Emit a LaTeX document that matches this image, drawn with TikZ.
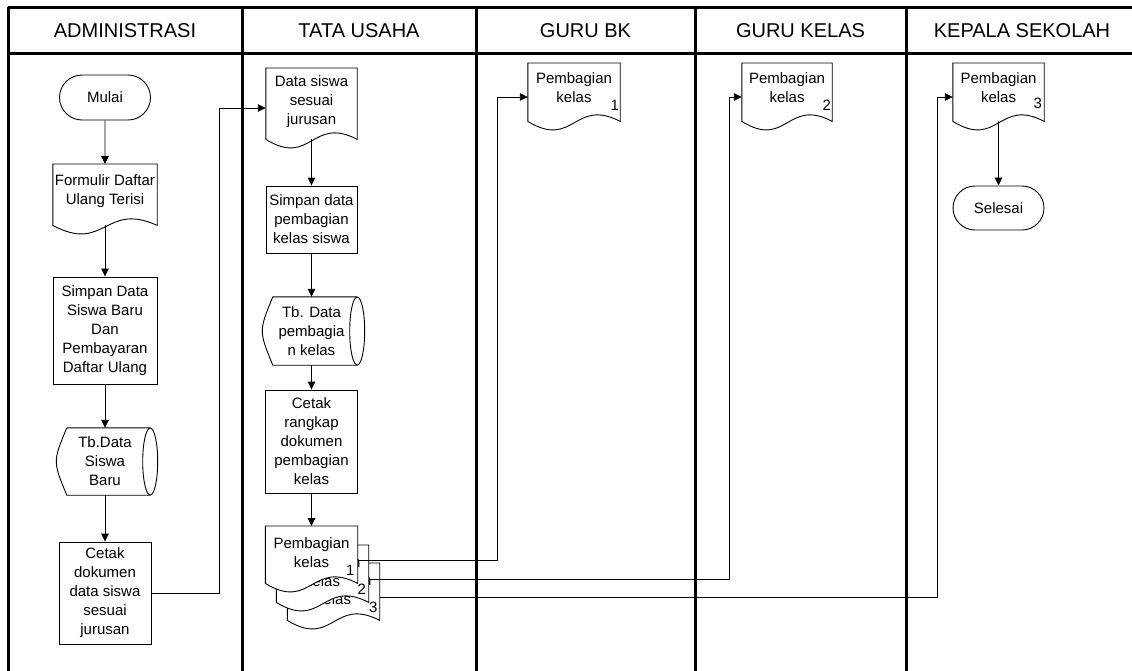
\documentclass[tikz,border=0pt]{standalone}
\usepackage{fontspec}
\setmainfont{Liberation Sans}
\usetikzlibrary{shapes.misc,arrows.meta,calc}
\newcommand\dgbody{\fontsize{15}{19}\selectfont}
\newcommand\dghead{\fontsize{20}{24}\selectfont}
\tikzset{
  lane/.style={line width=3pt},
  shp/.style={draw, line width=0.9pt},
  box/.style={shp, rectangle, align=center, font=\dgbody, inner sep=0pt},
  term/.style={shp, rounded rectangle, minimum width=91pt, minimum height=45pt, font=\dgbody, inner sep=0pt},
  holder/.style={rectangle, inner sep=0pt, draw=none},
  txt/.style={align=center, font=\dgbody, inner sep=0pt},
  num/.style={font=\dgbody, inner sep=0pt, anchor=south east},
  head/.style={font=\dghead, anchor=base, inner sep=0pt},
  flow/.style={line width=0.9pt, -{Triangle[length=8pt,width=7.5pt]}},
  link/.style={line width=0.9pt},
}
% document shape: name, cx, top, width, height, text yshift, text
\newcommand\docshape[7]{%
  \node[holder, minimum width=#4pt, minimum height=#5pt, anchor=north] (#1) at (#2,#3) {};
  \filldraw[shp, fill=white] (#1.south west) -- (#1.north west) -- (#1.north east) -- (#1.south east)
     .. controls ($(#1.south)+(0,-24)$) and ($(#1.south)+(0,28)$) .. (#1.south west) -- cycle;
  \node[txt] (#1-t) at ([yshift=#6pt]#1.center) {#7};
}
% stored data shape: name, cx, cy, width, height, text
\newcommand\storeshape[6]{%
  \node[holder, txt, minimum width=#4pt, minimum height=#5pt] (#1) at (#2,#3) {#6};
  \draw[shp] ([xshift=7pt]#1.north west) -- (#1.north east)
             (#1.south east) -- ([xshift=7pt]#1.south west)
             .. controls ([xshift=-7pt]#1.west) .. ([xshift=7pt]#1.north west);
  \draw[shp] (#1.east) ellipse [x radius=7.5pt, y radius=#5pt/2];
}
\begin{document}
\begin{tikzpicture}[x=1pt,y=-1pt]
\useasboundingbox (0,0) rectangle (1132,670);
\fill[white] (0,0) rectangle (1132,670);

% lanes
\draw[lane] (8,7) -- (1134,7);
\draw[lane] (8,53) -- (1134,53);
\foreach \x in {8,242,476,695,906} { \draw[lane] (\x,7) -- (\x,672); }
\node[head] (h1) at (125,37.2) {ADMINISTRASI};
\node[head] (h2) at (359,37.2) {TATA USAHA};
\node[head] (h3) at (585.5,37.2) {GURU BK};
\node[head] (h4) at (800.5,37.2) {GURU KELAS};
\node[head] (h5) at (1022,37.2) {KEPALA SEKOLAH};

% ADMINISTRASI
\node[term] (mulai) at (105,97.5) {Mulai};
\docshape{form}{105}{164}{104}{61}{3.5}{Formulir Daftar\\Ulang Terisi}
\node[box, minimum width=104pt, minimum height=107pt] (simpan) at (105,330.5)
  {Simpan Data\\Siswa Baru\\Dan\\Pembayaran\\Daftar Ulang};
\storeshape{tbsiswa}{105}{461.5}{90}{67}{Tb.Data\\Siswa\\Baru}
\node[box, minimum width=92pt, minimum height=102pt] (cetak) at (105,593)
  {Cetak\\dokumen\\data siswa\\sesuai\\jurusan};

% TATA USAHA
\docshape{ds}{311.5}{68}{91}{71}{2.5}{Data siswa\\sesuai\\jurusan}
\node[box, minimum width=91pt, minimum height=67pt] (simpan2) at (311.5,219.5)
  {Simpan data\\pembagian\\kelas siswa};
\storeshape{tbkelas}{311.5}{331}{91}{68}{Tb. Data\\pembagia\\n kelas}
\node[box, minimum width=92pt, minimum height=103pt] (rangkap) at (311.5,441.5)
  {Cetak\\rangkap\\dokumen\\pembagian\\kelas};
\docshape{md3}{333.5}{563}{92}{57}{2}{Pembagian\\kelas}
\node[num] (n3) at ([xshift=-2pt,yshift=7.5pt]md3.south east) {3};
\docshape{md2}{322.5}{545}{92}{57}{2}{Pembagian\\kelas}
\node[num] (n2) at ([xshift=-2.5pt,yshift=7.5pt]md2.south east) {2};
\docshape{md1}{311.5}{526}{92}{57}{2}{Pembagian\\kelas}
\node[num] (n1) at ([xshift=-3pt,yshift=7.5pt]md1.south east) {1};

% GURU BK / GURU KELAS / KEPALA SEKOLAH
\docshape{bk}{574}{63}{92}{58}{4.5}{Pembagian\\kelas}
\node[num] (nbk) at ([xshift=-1pt,yshift=10.5pt]bk.south east) {1};
\docshape{gk}{787}{63}{90}{58}{4.5}{Pembagian\\kelas}
\node[num] (ngk) at ([xshift=-1pt,yshift=10.5pt]gk.south east) {2};
\docshape{ks}{998.5}{63}{91}{58}{4.5}{Pembagian\\kelas}
\node[num] (nks) at ([xshift=-2pt,yshift=12.5pt]ks.south east) {3};
\node[term, minimum height=44pt] (selesai) at (998.5,208) {Selesai};

% connectors
\coordinate (c0) at (219,108);
\coordinate (c1) at (497,97);
\coordinate (c2) at (729,97);
\coordinate (c3) at (937,97);
\draw[flow] (mulai) -- (form);
\draw[flow] (form) -- (simpan);
\draw[flow] (simpan) -- (tbsiswa);
\draw[flow] (tbsiswa) -- (cetak);
\draw[flow] (cetak.east) -| (c0) -- (c0 -| ds.west);
\draw[flow] (ds) -- (simpan2);
\draw[flow] (simpan2) -- (tbkelas);
\draw[flow] (tbkelas) -- (rangkap);
\draw[flow] (rangkap) -- (md1);
\draw[flow] ([yshift=-5.5pt]md1.east) -| (c1) -- (c1 -| bk.west);
\draw[flow] ([yshift=-5.5pt]md2.east) -| (c2) -- (c2 -| gk.west);
\draw[flow] ([yshift=-5.5pt]md3.east) -| (c3) -- (c3 -| ks.west);
\draw[flow] (ks) -- (selesai);
\end{tikzpicture}
\end{document}
